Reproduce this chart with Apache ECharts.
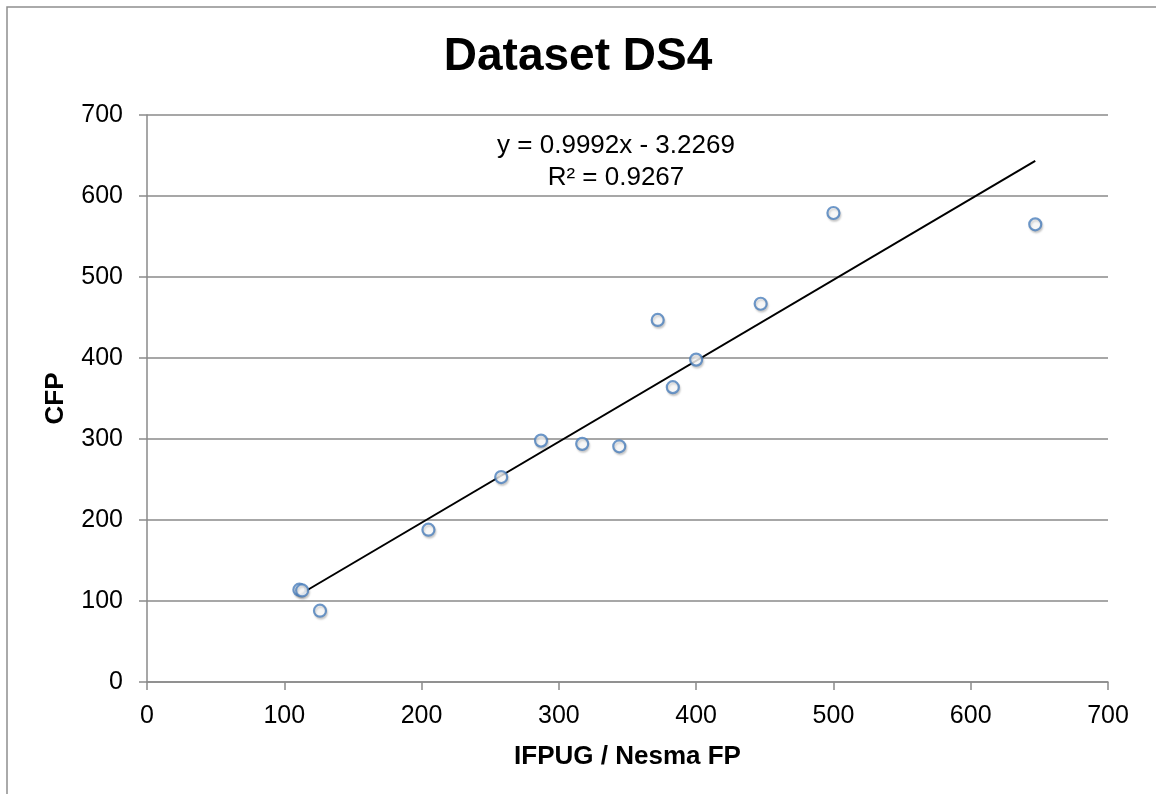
<!DOCTYPE html>
<html>
<head>
<meta charset="utf-8">
<script src="https://cdn.jsdelivr.net/npm/echarts@6/dist/echarts.min.js"></script>
<style>
    html, body { margin: 0; padding: 0; background: #fff; }
    #chart { width: 1156px; height: 794px; }
</style>
</head>
<body>
<div id="chart"></div>
<script>
// values
var ifpugFP = [111, 113, 126, 205, 258, 287, 317, 344, 372, 383, 400, 447, 500, 647];
var cfp = [114, 113, 88, 188, 253, 298, 294, 291, 447, 364, 398, 467, 579, 565];
// linear trend line ends (x from first to last point)
var trendX = [111, 647];
var trendY = [107.7, 643.3];
var xTicks = [0, 100, 200, 300, 400, 500, 600, 700];
var yTicks = [0, 100, 200, 300, 400, 500, 600, 700];

var font = "'Liberation Sans', Arial, sans-serif";
var gray = "#8a8a8a";

var points = ifpugFP.map(function (x, i) { return [x, cfp[i]]; });
var trend = trendX.map(function (x, i) { return [x, trendY[i]]; });

var chart = echarts.init(document.getElementById("chart"));
var option = {
    backgroundColor: "#fff",
    animation: false,
    grid: { left: 147, right: 48, top: 115, bottom: 112 },
    xAxis: {
        type: "value",
        min: xTicks[0],
        max: xTicks[xTicks.length - 1],
        interval: 100,
        name: "IFPUG / Nesma FP",
        nameLocation: "middle",
        nameGap: 62,
        nameTextStyle: { fontFamily: font, fontSize: 26, fontWeight: "bold", color: "#000" },
        axisLine: { show: true, lineStyle: { color: gray, width: 1.5 } },
        axisTick: { show: true, inside: false, length: 8, lineStyle: { color: gray, width: 1.5 } },
        axisLabel: { fontFamily: font, fontSize: 25, color: "#000", margin: 22 },
        splitLine: { show: false }
    },
    yAxis: {
        type: "value",
        min: yTicks[0],
        max: yTicks[yTicks.length - 1],
        interval: 100,
        name: "CFP",
        nameLocation: "middle",
        nameGap: 78,
        nameRotate: 90,
        nameTextStyle: { fontFamily: font, fontSize: 26, fontWeight: "bold", color: "#000" },
        axisLine: { show: true, lineStyle: { color: gray, width: 1.5 } },
        axisTick: { show: true, inside: false, length: 8, lineStyle: { color: gray, width: 1.5 } },
        axisLabel: { fontFamily: font, fontSize: 25, color: "#000", margin: 24 },
        splitLine: { show: true, lineStyle: { color: gray, width: 1.5 } }
    },
    graphic: [
        {
            type: "rect",
            shape: { x: 7, y: 7, width: 1300, height: 1000 },
            style: { fill: "none", stroke: "#8f8f8f", lineWidth: 1.5 },
            silent: true
        },
        {
            type: "text",
            left: "center",
            top: 34,
            style: { text: "Dataset DS4", font: "bold 46px " + font, fill: "#000" }
        },
        {
            type: "text",
            x: 616,
            y: 162,
            style: {
                text: "y = 0.9992x - 3.2269\nR² = 0.9267",
                font: "26px " + font,
                fill: "#000",
                align: "center",
                verticalAlign: "middle",
                lineHeight: 32
            }
        }
    ],
    series: [
        {
            type: "line",
            data: trend,
            showSymbol: false,
            lineStyle: { color: "#000", width: 2 },
            z: 2
        },
        {
            type: "scatter",
            data: points,
            symbol: "circle",
            symbolSize: 12,
            itemStyle: {
                color: "#fff",
                borderColor: "#4a7ebb",
                borderWidth: 2.2,
                shadowBlur: 2,
                shadowColor: "rgba(0,0,0,0.2)",
                shadowOffsetX: 1,
                shadowOffsetY: 2
            },
            z: 3
        }
    ]
};
chart.setOption(option);
</script>
</body>
</html>
